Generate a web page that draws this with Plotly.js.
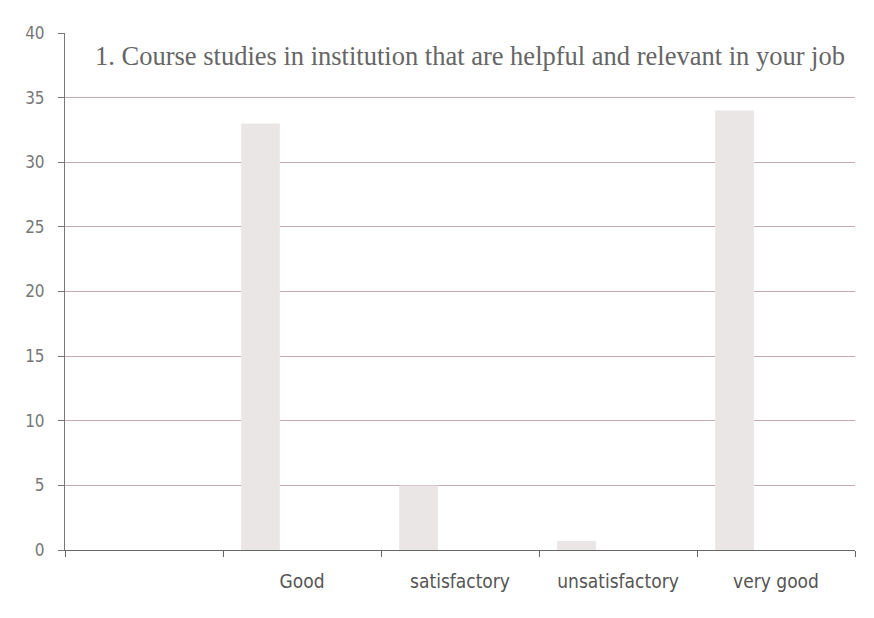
<!DOCTYPE html>
<html><head><meta charset="utf-8">
<script src="https://cdn.plot.ly/plotly-3.0.1.min.js"></script>
<style>body{margin:0;background:#fff}#c{width:874px;height:618px}</style>
</head><body><div id="c"></div>
<script>
const slots = [" ", "Good", "satisfactory", "unsatisfactory", "very good"];
const categories = ["Good", "satisfactory", "unsatisfactory", "very good"];
const values = [33, 5, 0.7, 34];
const yTicks = [0, 5, 10, 15, 20, 25, 30, 35, 40];
const titleText = "1. Course studies in institution that are helpful and relevant in your job";

const narrow = "Liberation Sans Narrow, DejaVu Sans Condensed, Roboto Condensed, Roboto, sans-serif";
const trace = {
  type: "bar", x: categories, y: values,
  width: 0.245, offset: -0.385,
  marker: {color: "#ebe6e6", line: {width: 0}},
  hoverinfo: "x+y"
};
const layout = {
  width: 874, height: 618,
  margin: {l: 65, r: 19, t: 33, b: 68},
  paper_bgcolor: "#ffffff", plot_bgcolor: "#ffffff",
  showlegend: false,
  xaxis: {
    type: "category", categoryorder: "array", categoryarray: slots,
    range: [-0.5, 4.5], tickson: "boundaries",
    ticks: "outside", ticklen: 6, tickcolor: "#666",
    showline: true, linecolor: "#666", linewidth: 1,
    showgrid: false, zeroline: false,
    ticklabelstandoff: 14,
    tickfont: {family: narrow, size: 19, color: "#555"}
  },
  yaxis: {
    range: [0, 40], tickvals: yTicks, ticktext: yTicks.map(String),
    ticks: "outside", ticklen: 6, tickcolor: "#777",
    showline: true, linecolor: "#777", linewidth: 1,
    showgrid: true, gridcolor: "#c9aab2", gridwidth: 1,
    zeroline: true, zerolinecolor: "#8a7a7e", zerolinewidth: 1.2,
    ticklabelstandoff: 10,
    tickfont: {family: narrow, size: 17, color: "#777"}
  },
  annotations: [{
    text: titleText, xref: "paper", yref: "paper", x: 0.035, y: 0.955,
    xanchor: "left", yanchor: "middle", showarrow: false,
    font: {family: "Liberation Serif, serif", size: 26.5, color: "#666"}
  }]
};
Plotly.newPlot("c", [trace], layout, {displayModeBar: false});
</script></body></html>
